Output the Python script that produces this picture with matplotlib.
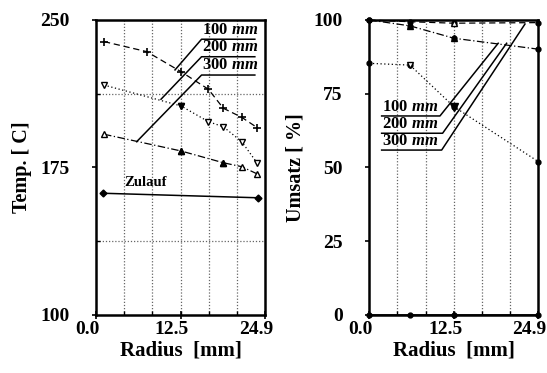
import numpy as np
import matplotlib
matplotlib.use('agg')
from matplotlib import pyplot as plt
from matplotlib.transforms import ScaledTranslation

plt.rcParams['font.family'] = ['Liberation Serif', 'DejaVu Serif']
plt.rcParams['font.weight'] = 'bold'
plt.rcParams['axes.labelweight'] = 'bold'
plt.rcParams['mathtext.fontset'] = 'custom'
plt.rcParams['mathtext.it'] = 'Liberation Serif:italic:bold'
plt.rcParams['mathtext.rm'] = 'Liberation Serif:bold'

# ---- left panel: temperature over radius
r_100 = [1.18, 7.47, 12.52, 16.55, 18.76, 21.47, 23.77]
t_100 = [239.0, 233.9, 223.7, 214.8, 205.1, 200.5, 195.2]
r_200 = [1.18, 12.52, 16.55, 18.76, 21.47, 23.77]
t_200 = [216.9, 206.3, 198.3, 195.7, 188.1, 177.1]
r_300 = [1.18, 12.52, 18.76, 21.47, 23.77]
t_300 = [191.9, 183.4, 177.4, 175.4, 171.7]
r_zul = [0.99, 23.82]
t_zul = [161.9, 159.6]

# ---- right panel: conversion over radius
r_u = [0.0, 6.0, 12.48, 24.9]
u_100 = [100.0, 99.4, 98.9, 99.1]
u_200 = [100.0, 98.0, 93.8, 90.1]
u_300 = [85.3, 84.7, 70.6, 52.0]
u_zul = [0.0, 0.0, 0.0, 0.0]

labels = ['100', '200', '300']
r_max = 24.9

fig = plt.figure(figsize=(5.47, 3.73), dpi=100)
ax1 = fig.add_axes([0.1755, 0.1555, 0.309, 0.791])
ax2 = fig.add_axes([0.675, 0.1555, 0.309, 0.791])

def style_axes(ax, ylim, yticks, yminor):
    ax.set_xlim(0, r_max)
    ax.set_ylim(*ylim)
    ax.set_xticks([0, 12.5, r_max])
    ax.set_xticklabels(['0.0', '12.5', '24.9'])
    ax.set_xticks([r_max / 6 * k for k in range(1, 6)], minor=True)
    ax.set_yticks(yticks)
    ax.set_yticks(yminor, minor=True)
    ax.grid(which='minor', linestyle=(0, (1, 1.5)), color='#666666', linewidth=0.9)
    for s in ax.spines.values():
        s.set_linewidth(1.8)
    ax.tick_params(axis='x', which='major', direction='inout', length=6, width=1.2,
                   labelsize=14, pad=1)
    ax.tick_params(axis='y', which='major', direction='out', length=3, width=1.2,
                   labelsize=14, pad=16)
    ax.tick_params(which='minor', direction='in', length=3, width=1)
    off = ScaledTranslation(-9 / 100, 0, fig.dpi_scale_trans)
    for lab in ax.get_xticklabels():
        lab.set_transform(lab.get_transform() + off)
    ax.set_xlabel('Radius  [mm]', fontsize=15, labelpad=2)

style_axes(ax1, (100, 250), [100, 175, 250], [137.5, 175, 212.5])
style_axes(ax2, (0, 100), [0, 25, 50, 75, 100], [25, 50, 75])
ax1.set_ylabel('Temp. [ C]', fontsize=14.5, labelpad=6)
ax2.set_ylabel('Umsatz [ %]', fontsize=14.5, labelpad=6)

lw = 0.9
ax1.plot(r_100, t_100, color='k', lw=lw, ls=(0, (5, 3)), marker='+', ms=6, mew=1.2)
ax1.plot(r_200, t_200, color='k', lw=lw, ls=(0, (1, 2)), marker='v', ms=4.5,
         mfc='white', mec='k', mew=1)
ax1.plot(r_200, t_200, ls='none', marker='v', ms=4.5, color='k', markevery=[1])
ax1.plot(r_300, t_300, color='k', lw=lw, ls=(0, (6, 2, 1, 2)), marker='^', ms=4.5,
         mfc='white', mec='k', mew=1)
ax1.plot(r_300, t_300, ls='none', marker='^', ms=4.5, color='k', markevery=[1, 2])
ax1.plot(r_zul, t_zul, color='k', lw=1.1, marker='D', ms=3.5)
ax1.text(7.3, 167.4, 'Zulauf', fontsize=10.5, ha='center', va='center')

# label boxes with leader lines, left
ul_y1 = [240.2, 231.3, 222.0]
lead_x1 = [11.64, 9.58, 5.99]
lead_y1 = [224.6, 209.7, 188.1]
for lab, uy, lx, ly in zip(labels, ul_y1, lead_x1, lead_y1):
    ax1.plot([23.4, 15.55, lx], [uy, uy, ly], color='k', lw=1.1)
    ax1.text(15.6, uy + 0.8, lab + r' $mm$', fontsize=12, ha='left', va='bottom')

# right panel
ms = 4.5
ax2.plot(r_u, u_100, color='k', lw=lw, ls=(0, (5, 3)), marker='o', ms=3.5, clip_on=False)
ax2.plot(r_u[2], u_100[2], ls='none', marker='^', ms=ms, mfc='white', mec='k')
ax2.plot(r_u[1], u_100[1], ls='none', marker='v', ms=ms, color='k')
ax2.plot(r_u, u_200, color='k', lw=lw, ls=(0, (6, 2, 1, 2)), marker='o', ms=3.5, clip_on=False)
ax2.plot(r_u[1:3], u_200[1:3], ls='none', marker='^', ms=ms, color='k')
ax2.plot(r_u, u_300, color='k', lw=lw, ls=(0, (1, 2)), marker='o', ms=3.5, clip_on=False)
ax2.plot(r_u[1], u_300[1], ls='none', marker='v', ms=ms, mfc='white', mec='k')
ax2.plot(r_u[2], u_300[2], ls='none', marker='v', ms=ms + 1, color='k')
ax2.plot(r_u, u_zul, color='k', lw=1.2, marker='o', ms=3.5, clip_on=False, zorder=5)

ul_y2 = [67.46, 61.6, 55.9]
ul_x2 = [10.42, 10.81, 10.67]
lead_x2 = [19.0, 20.24, 22.94]
lead_y2 = [92.1, 92.1, 98.6]
for lab, uy, ux, lx, ly in zip(labels, ul_y2, ul_x2, lead_x2, lead_y2):
    ax2.plot([1.83, ux, lx], [uy, uy, ly], color='k', lw=1.1)
    ax2.text(1.9, uy + 0.3, lab + r' $mm$', fontsize=12, ha='left', va='bottom')

fig.savefig('out.png', dpi=100)
